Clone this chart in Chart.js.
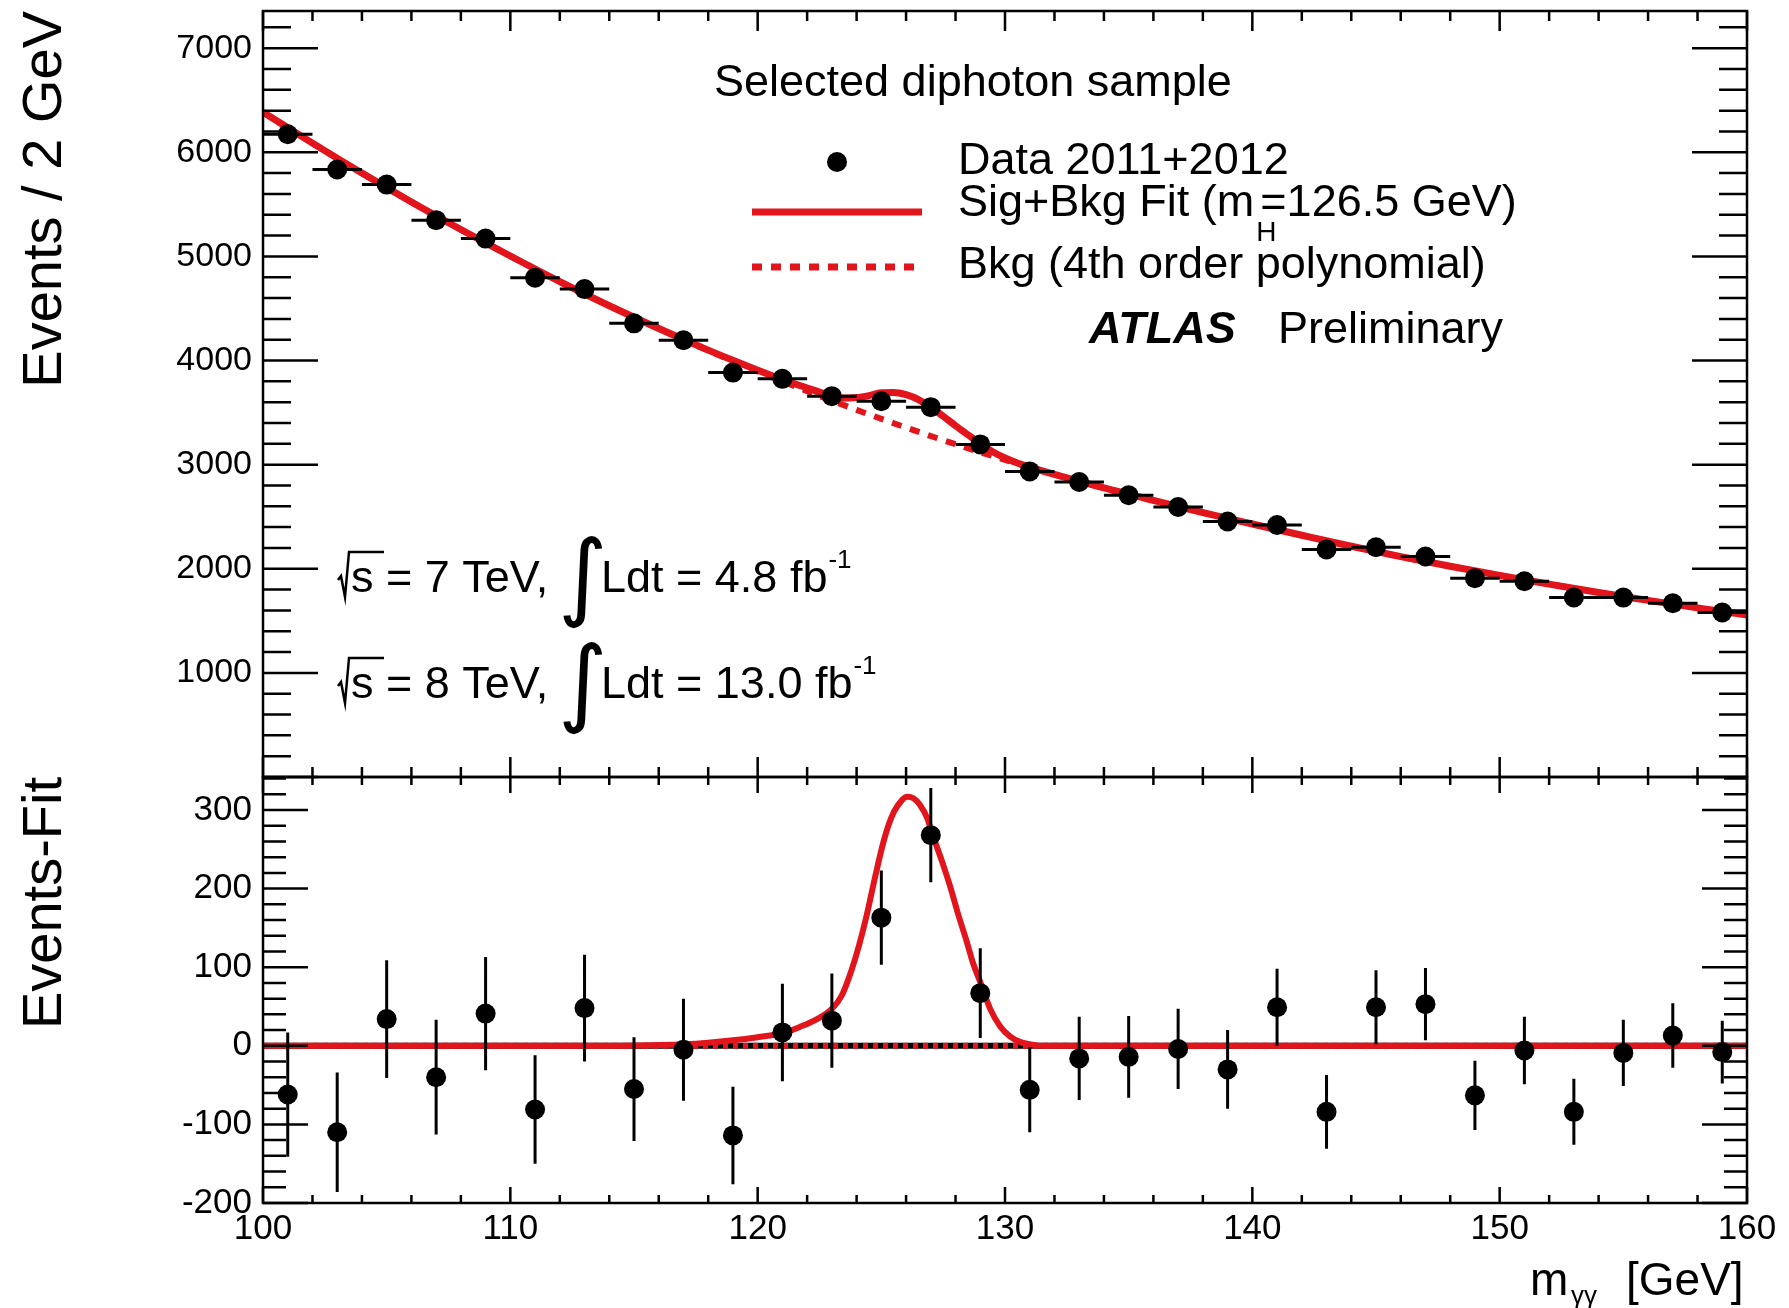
<!DOCTYPE html>
<html lang="en">
<head>
<meta charset="utf-8">
<title>Selected diphoton sample - m_yy</title>
<script src="https://cdn.jsdelivr.net/npm/chart.js@4.4.1/dist/chart.umd.min.js"></script>
<style>
  html, body { margin: 0; padding: 0; background: #ffffff; }
  #plot { display: block; }
</style>
</head>
<body>
<canvas id="plot" width="1789" height="1308"></canvas>
<script>
// 2 GeV bins, centres
const binCentres = [101, 103, 105, 107, 109, 111, 113, 115, 117, 119, 121, 123, 125, 127, 129,
                    131, 133, 135, 137, 139, 141, 143, 145, 147, 149, 151, 153, 155, 157, 159];
// events per bin (upper pad)
const eventCounts = [6173, 5835, 5690, 5348, 5171, 4795, 4686, 4357, 4195, 3884, 3824, 3658, 3609, 3552, 3194,
                     2935, 2833, 2706, 2593, 2454, 2420, 2186, 2207, 2118, 1910, 1880, 1724, 1723, 1669, 1580];
// statistical errors, same for both pads
const statErrors = [79, 76, 75, 73, 72, 69, 68, 66, 65, 62, 62, 60, 60, 60, 57,
                    54, 53, 52, 51, 50, 49, 47, 47, 46, 44, 43, 42, 42, 41, 40];
// events minus background fit (lower pad)
const residuals = [-62, -110, 34, -40, 41, -81, 48, -55, -5, -114, 17, 32, 163, 268, 67,
                   -56, -16, -14, -4, -30, 49, -84, 49, 53, -63, -6, -84, -9, 13, -8];

// background fit (4th order polynomial)
const bkgMass = [100, 102, 104, 106, 108, 110, 112, 114, 116, 118, 120, 122, 124, 126, 128, 130,
                 132, 134, 136, 138, 140, 142, 144, 146, 148, 150, 152, 154, 156, 158, 160];
const bkgFit = [6385, 6088, 5800, 5523, 5258, 5004, 4758, 4526, 4306, 4096, 3896, 3706, 3526, 3356, 3196, 3046,
                2906, 2776, 2656, 2540, 2430, 2322, 2216, 2116, 2024, 1936, 1852, 1772, 1696, 1624, 1556];

// signal + background fit
const sigBkgMass = [100, 102, 104, 106, 108, 110, 112, 114, 116, 118, 119, 120, 121, 122, 122.5, 123, 123.5,
                    124, 124.5, 125, 125.5, 126, 126.5, 127, 127.5, 128, 128.5, 129, 129.5, 130, 130.5, 131,
                    132, 134, 136, 138, 140, 142, 144, 146, 148, 150, 152, 154, 156, 158, 160];
const sigBkgFit = [6385, 6088, 5800, 5523, 5258, 5004, 4758, 4526, 4307, 4100, 4002, 3907, 3816, 3736, 3696, 3662, 3640,
                   3644, 3663, 3690, 3694, 3672, 3625, 3551, 3465, 3374, 3287, 3201, 3124, 3064, 3016, 2977,
                   2906, 2776, 2656, 2540, 2430, 2322, 2216, 2116, 2024, 1936, 1852, 1772, 1696, 1624, 1556];

// signal component (lower pad)
const sigMass = [100, 114, 116, 117, 118, 119, 120, 121, 121.7, 122.4, 123, 123.4, 123.75, 124.1, 124.4, 124.75,
                 125.1, 125.4, 125.65, 126.05, 126.3, 126.55, 126.85, 127.1, 127.45, 127.8, 128.1, 128.45, 128.7,
                 129, 129.4, 129.8, 130.2, 130.6, 131, 131.5, 160];
const sigResidual = [0, 0, 1, 2, 4, 7, 11, 16, 24, 34, 47, 64, 92, 128, 165, 215,
                     261, 290, 305, 317, 315, 307, 290, 266, 235, 201, 168, 133, 106,
                     81, 47, 25, 12, 5, 2, 0, 0];
// background minus background
const flatMass = [100, 160];
const flatResidual = [0, 0];

// axes
const massTicks = [100, 110, 120, 130, 140, 150, 160];
const eventTicks = [1000, 2000, 3000, 4000, 5000, 6000, 7000];
const residualTicks = [-200, -100, 0, 100, 200, 300];

const FONT = '"Liberation Sans", Arial, Helvetica, sans-serif';
const RED = 'rgb(226, 20, 28)';

const toPoints = (xs, ys) => xs.map((x, i) => ({x: x, y: ys[i]}));

// draws data error bars just before the markers
const errorBars = {
  id: 'errorBars',
  beforeDatasetDraw(chart, args) {
    const ds = chart.data.datasets[args.index];
    if (!ds.errors) return;
    const xs = chart.scales[args.meta.xAxisID];
    const ys = chart.scales[args.meta.yAxisID];
    const ctx = chart.ctx;
    ctx.save();
    ctx.strokeStyle = '#000';
    ctx.lineWidth = 3;
    ctx.beginPath();
    ds.data.forEach((p, i) => {
      const px = xs.getPixelForValue(p.x);
      const py = ys.getPixelForValue(p.y);
      ctx.moveTo(px, ys.getPixelForValue(p.y - ds.errors[i]));
      ctx.lineTo(px, ys.getPixelForValue(p.y + ds.errors[i]));
      if (ds.halfBin) {
        ctx.moveTo(xs.getPixelForValue(p.x - ds.halfBin), py);
        ctx.lineTo(xs.getPixelForValue(p.x + ds.halfBin), py);
      }
    });
    ctx.stroke();
    ctx.restore();
  }
};

// ROOT style frame: inward ticks on all four sides of each pad
function drawPad(ctx, xs, ys, step, nDiv, len) {
  ctx.strokeRect(xs.left, ys.top, xs.right - xs.left, ys.bottom - ys.top);
  ctx.beginPath();
  const minor = step / nDiv;
  for (let k = Math.ceil(ys.min / minor); k <= Math.floor(ys.max / minor); k++) {
    const py = ys.getPixelForValue(k * minor);
    const l = k % nDiv === 0 ? len.yMajor : len.yMinor;
    ctx.moveTo(xs.left, py); ctx.lineTo(xs.left + l, py);
    ctx.moveTo(xs.right, py); ctx.lineTo(xs.right - l, py);
  }
  for (let m = xs.min; m <= xs.max; m += 2) {
    const px = xs.getPixelForValue(m);
    const l = m % 10 === 0 ? len.xMajor : len.xMinor;
    ctx.moveTo(px, ys.top); ctx.lineTo(px, ys.top + l);
    ctx.moveTo(px, ys.bottom); ctx.lineTo(px, ys.bottom - l);
  }
  ctx.stroke();
}

const padFrames = {
  id: 'padFrames',
  afterDatasetsDraw(chart) {
    const {ctx, scales} = chart;
    ctx.save();
    ctx.strokeStyle = '#000';
    ctx.lineWidth = 2.5;
    drawPad(ctx, scales.x, scales.y, 1000, 5, {yMajor: 55, yMinor: 28, xMajor: 20, xMinor: 10});
    drawPad(ctx, scales.x, scales.yRes, 100, 5, {yMajor: 45, yMinor: 23, xMajor: 16, xMinor: 8});
    ctx.restore();
  }
};

function put(ctx, text, x, y, size, style) {
  ctx.font = (style || '') + ' ' + size + 'px ' + FONT;
  ctx.fillText(text, x, y);
  return x + ctx.measureText(text).width;
}

function lumiLine(ctx, y, energy, lumi) {
  ctx.beginPath();
  ctx.moveTo(338, y - 12);
  ctx.lineTo(341, y - 16);
  ctx.lineTo(345, y + 5);
  ctx.lineTo(349, y - 40);
  ctx.lineTo(384, y - 40);
  ctx.stroke();
  put(ctx, 's = ' + energy + ' TeV,', 351, y, 45);
  ctx.font = '95px "DejaVu Sans"';
  ctx.fillText('\u222B', 558, y + 16);
  const end = put(ctx, 'Ldt = ' + lumi + ' fb', 601, y, 45);
  put(ctx, '-1', end + 1, y - 24, 26);
}

const annotations = {
  id: 'annotations',
  afterDraw(chart) {
    const ctx = chart.ctx;
    ctx.save();
    ctx.fillStyle = '#000';
    ctx.strokeStyle = '#000';
    ctx.lineWidth = 2.5;
    ctx.textAlign = 'left';
    ctx.textBaseline = 'alphabetic';

    put(ctx, 'Selected diphoton sample', 714, 96, 45);

    // legend
    ctx.beginPath();
    ctx.arc(837, 162, 10, 0, Math.PI * 2);
    ctx.fill();
    put(ctx, 'Data 2011+2012', 958, 174, 45);

    ctx.save();
    ctx.strokeStyle = RED;
    ctx.lineWidth = 7;
    ctx.beginPath(); ctx.moveTo(752, 212); ctx.lineTo(922, 212); ctx.stroke();
    ctx.setLineDash([10, 9]);
    ctx.beginPath(); ctx.moveTo(752, 267); ctx.lineTo(922, 267); ctx.stroke();
    ctx.restore();

    let cx = put(ctx, 'Sig+Bkg Fit (m', 958, 216, 45);
    put(ctx, 'H', cx + 2, 241, 28);
    put(ctx, '=126.5 GeV)', cx + 6, 216, 45);
    put(ctx, 'Bkg (4th order polynomial)', 958, 278, 45);

    put(ctx, 'ATLAS', 1089, 343, 45, 'italic bold');
    put(ctx, 'Preliminary', 1278, 343, 45);

    lumiLine(ctx, 592, '7', '4.8');
    lumiLine(ctx, 698, '8', '13.0');

    // x axis title
    put(ctx, 'm', 1530, 1295, 46);
    put(ctx, '\u03B3\u03B3', 1571, 1304, 26);
    put(ctx, '[GeV]', 1626, 1295, 46);
    ctx.restore();
  }
};

const tickFont = size => ({family: FONT, size: size});
const plainLabel = v => String(v);
// keep the plot frame where the reference has it: no extra room for edge labels
const noEdgePadding = s => { s.paddingTop = 0; s.paddingBottom = 0; s.paddingLeft = 0; s.paddingRight = 0; };

new Chart(document.getElementById('plot'), {
  type: 'line',
  data: {
    datasets: [
      {
        label: 'Data 2011+2012', yAxisID: 'y', data: toPoints(binCentres, eventCounts),
        errors: statErrors, halfBin: 1, showLine: false,
        pointRadius: 10, pointBackgroundColor: '#000', pointBorderWidth: 0, order: 0
      },
      {
        label: 'Sig+Bkg Fit', yAxisID: 'y', data: toPoints(sigBkgMass, sigBkgFit),
        borderColor: RED, borderWidth: 7, pointRadius: 0, cubicInterpolationMode: 'monotone', clip: 0, order: 1
      },
      {
        label: 'Bkg (4th order polynomial)', yAxisID: 'y', data: toPoints(bkgMass, bkgFit),
        borderColor: RED, borderWidth: 6, borderDash: [10, 9], pointRadius: 0,
        cubicInterpolationMode: 'monotone', clip: 0, order: 2
      },
      {
        label: 'Events-Fit', yAxisID: 'yRes', data: toPoints(binCentres, residuals),
        errors: statErrors, showLine: false,
        pointRadius: 10, pointBackgroundColor: '#000', pointBorderWidth: 0, order: 0
      },
      {
        label: 'Signal', yAxisID: 'yRes', data: toPoints(sigMass, sigResidual),
        borderColor: RED, borderWidth: 6, pointRadius: 0, cubicInterpolationMode: 'monotone', clip: 0, order: 1
      },
      {
        label: 'Bkg - Bkg', yAxisID: 'yRes', data: toPoints(flatMass, flatResidual),
        borderColor: RED, borderWidth: 6, borderDash: [5, 5], pointRadius: 0, clip: 0, order: 2
      },
      {
        label: 'zero', yAxisID: 'yRes', data: toPoints(flatMass, flatResidual),
        borderColor: '#000', borderWidth: 6, pointRadius: 0, clip: 0, order: 3
      }
    ]
  },
  options: {
    responsive: false,
    devicePixelRatio: 1,
    animation: false,
    events: [],
    layout: {padding: {top: 11, right: 42, bottom: 0, left: 0}},
    plugins: {legend: {display: false}, tooltip: {enabled: false}},
    scales: {
      x: {
        type: 'linear', position: 'bottom', min: 100, max: 160,
        grid: {display: false, drawTicks: false}, border: {display: false},
        afterBuildTicks: s => { s.ticks = massTicks.map(v => ({value: v})); },
        ticks: {font: tickFont(35), color: '#000', padding: 5, maxRotation: 0, autoSkip: false, callback: plainLabel},
        afterFit: s => { s.height = 105; noEdgePadding(s); }
      },
      y: {
        type: 'linear', position: 'left', stack: 'pads', stackWeight: 766, weight: 2,
        min: 0, max: 7357,
        grid: {display: false, drawTicks: false}, border: {display: false},
        afterBuildTicks: s => { s.ticks = eventTicks.map(v => ({value: v})); },
        ticks: {font: tickFont(34), color: '#000', padding: 11, callback: plainLabel},
        title: {display: true, text: 'Events / 2 GeV', align: 'end', color: '#000',
                font: {family: FONT, size: 56}, padding: {top: 12, bottom: 0}},
        afterFit: s => { s.width = 263; noEdgePadding(s); }
      },
      yRes: {
        type: 'linear', position: 'left', stack: 'pads', stackWeight: 426, weight: 1,
        min: -200, max: 342,
        grid: {display: false, drawTicks: false}, border: {display: false},
        afterBuildTicks: s => { s.ticks = residualTicks.map(v => ({value: v})); },
        ticks: {font: tickFont(35), color: '#000', padding: 11, callback: plainLabel},
        title: {display: true, text: 'Events-Fit', align: 'end', color: '#000',
                font: {family: FONT, size: 56}, padding: {top: 12, bottom: 0}},
        afterFit: s => { s.width = 263; noEdgePadding(s); }
      }
    }
  },
  plugins: [errorBars, padFrames, annotations]
});
</script>
</body>
</html>
